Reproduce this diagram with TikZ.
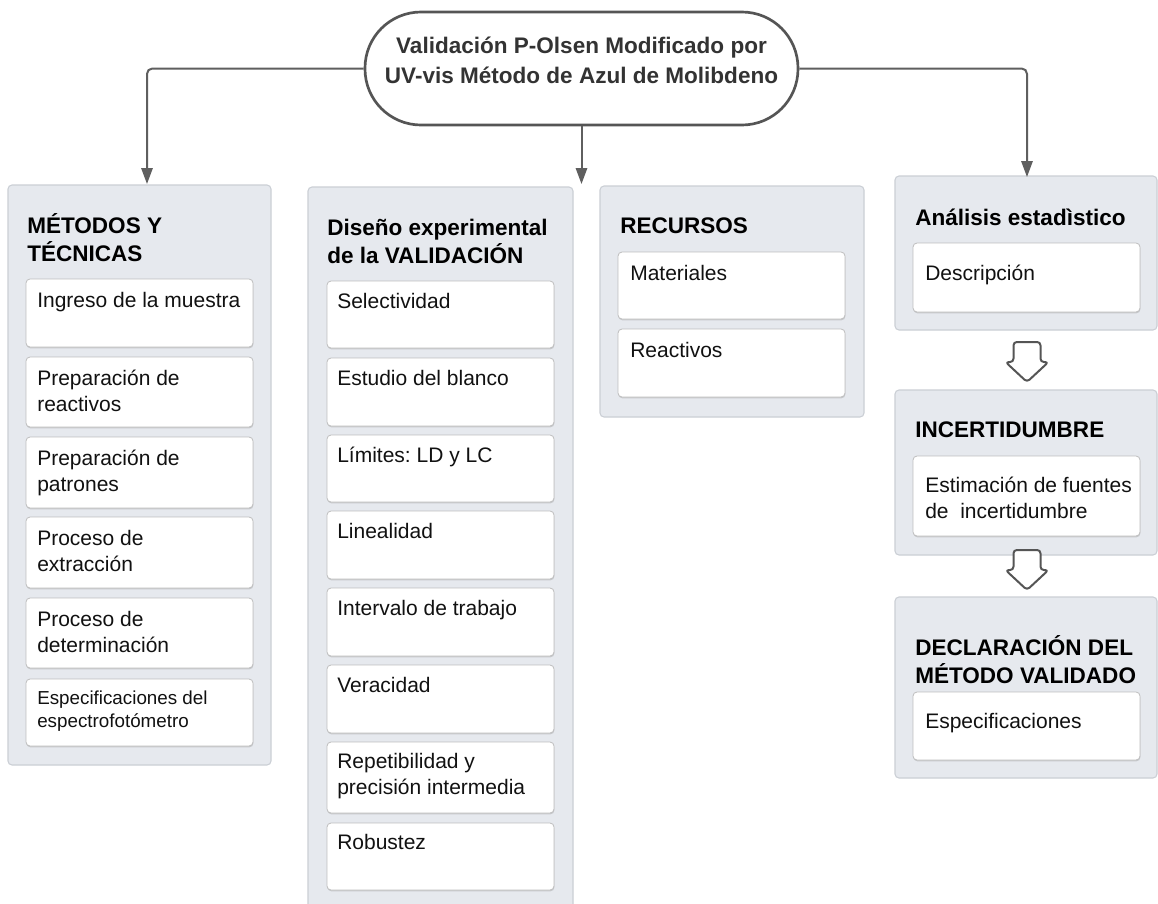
\documentclass[tikz,border=0pt]{standalone}
\usepackage{fontspec}
\setmainfont{Liberation Sans}
\usetikzlibrary{fit,arrows.meta,shadows}
\definecolor{panelfill}{HTML}{E6E9EE}
\definecolor{panelline}{HTML}{CBCFD5}
\definecolor{boxline}{HTML}{BEBEBE}
\definecolor{connc}{HTML}{5F5F5F}
\definecolor{topline}{HTML}{555555}
\definecolor{toptext}{HTML}{333333}
\definecolor{txtc}{HTML}{111111}
\frenchspacing
\newcommand\mytwo[2]{\vtop{\hbox{#1}\hbox{#2}}}
\tikzset{
 panel/.style={draw=panelline, fill=panelfill, line width=0.8pt, rounded corners=3pt, inner sep=0pt},
 item/.style={draw=boxline, fill=white, line width=0.6pt, rounded corners=3pt, inner sep=0pt,
   drop shadow={shadow xshift=0.3pt, shadow yshift=-1pt, opacity=0.3}},
 ttl/.style={anchor=base west, inner sep=0pt, text=black, font=\fontsize{16.9}{21}\selectfont\bfseries},
 txt/.style={anchor=base west, inner sep=0pt, text=txtc, font=\fontsize{15.75}{19.5}\selectfont},
 smalltxt/.style={anchor=base west, inner sep=0pt, text=txtc, font=\fontsize{14.1}{17.3}\selectfont},
 conn/.style={draw=connc, line width=1.5pt, rounded corners=4pt, -{Triangle[length=12pt,width=8.5pt]}},
 hollow/.style={draw=topline, line width=1.5pt, fill=white, rounded corners=2.5pt, line join=round},
 topnode/.style={draw=topline, line width=2pt, fill=white, rounded corners=42pt, inner sep=0pt,
   align=center, text=toptext, font=\fontsize{16.9}{22.5}\selectfont\bfseries},
}
\begin{document}
\begin{tikzpicture}[x=0.75pt,y=-0.75pt]
\clip (0,0) rectangle (1158,904);
\fill[white] (0,0) rectangle (1158,904);

% top node
\node[topnode, fit={(365,12) (798,125)}] (top) {Validación P-Olsen Modificado por\\UV-vis Método de Azul de Molibdeno};

% panels
\node[panel, fit={(8,185) (271,765)}] (p1) {};
\node[panel, fit={(308,187) (573,912)}] (p2) {};
\node[panel, fit={(600,186) (864,417)}] (p3) {};
\node[panel, fit={(895,176) (1157,330)}] (p4) {};
\node[panel, fit={(895,390) (1157,555)}] (p5) {};
\node[panel, fit={(895,597) (1157,778)}] (p6) {};

% connectors
\coordinate (c1) at (147,184);
\coordinate (c2) at (581.5,184);
\coordinate (c3) at (1027,177);
\draw[conn] (top.west) -| (c1);
\draw[conn] (top.south) -- (c2);
\draw[conn] (top.east) -| (c3);

% panel 1
\node[ttl] (t1) at (27,233) {\mytwo{MÉTODOS Y}{TÉCNICAS}};
\node[item, fit={(26,279) (253,347)}] (b11) {};
\node[item, fit={(26,357) (253,427)}] (b12) {};
\node[item, fit={(26,437) (253,508)}] (b13) {};
\node[item, fit={(26,517) (253,588)}] (b14) {};
\node[item, fit={(26,598) (253,668)}] (b15) {};
\node[item, fit={(26,679) (253,746)}] (b16) {};
\node[txt] (x11) at (37,307) {Ingreso de la muestra};
\node[txt] (x12) at (37,385) {\mytwo{Preparación de}{reactivos}};
\node[txt] (x13) at (37,465) {\mytwo{Preparación de}{patrones}};
\node[txt] (x14) at (37,545) {\mytwo{Proceso de}{extracción}};
\node[txt] (x15) at (37,626) {\mytwo{Proceso de}{determinación}};
\node[smalltxt] (x16) at (37,704) {\mytwo{Especificaciones del}{espectrofotómetro}};

% panel 2
\node[ttl] (t2) at (327,235) {\mytwo{Diseño experimental}{de la VALIDACIÓN}};
\node[item, fit={(327,281) (554,348)}] (b21) {};
\node[item, fit={(327,358) (554,426)}] (b22) {};
\node[item, fit={(327,435) (554,502)}] (b23) {};
\node[item, fit={(327,511) (554,579)}] (b24) {};
\node[item, fit={(327,588) (554,656)}] (b25) {};
\node[item, fit={(327,665) (554,733)}] (b26) {};
\node[item, fit={(327,742) (554,813)}] (b27) {};
\node[item, fit={(327,823) (554,890)}] (b28) {};
\node[txt] (x21) at (337,308) {Selectividad};
\node[txt] (x22) at (337,385) {Estudio del blanco};
\node[txt] (x23) at (337,462) {Límites: LD y LC};
\node[txt] (x24) at (337,538) {Linealidad};
\node[txt] (x25) at (337,615) {Intervalo de trabajo};
\node[txt] (x26) at (337,692) {Veracidad};
\node[txt] (x27) at (337,768) {\mytwo{Repetibilidad y}{precisión intermedia}};
\node[txt] (x28) at (337,849) {Robustez};

% panel 3
\node[ttl] (t3) at (620,233) {RECURSOS};
\node[item, fit={(618,252) (845,319)}] (b31) {};
\node[item, fit={(618,329) (845,397)}] (b32) {};
\node[txt] (x31) at (630,280) {Materiales};
\node[txt] (x32) at (630,357) {Reactivos};

% panel 4
\node[ttl] (t4) at (915,225) {Análisis estadìstico};
\node[item, fit={(913,243) (1140,312)}] (b41) {};
\node[txt] (x41) at (925,280) {Descripción};

% panel 5
\node[ttl] (t5) at (915,437) {INCERTIDUMBRE};
\node[item, fit={(913,456) (1140,536)}] (b51) {};
\node[txt] (x51) at (925,492) {\mytwo{Estimación de fuentes}{de~ incertidumbre}};

% panel 6
\node[ttl] (t6) at (915,655) {\mytwo{DECLARACIÓN DEL}{MÉTODO VALIDADO}};
\node[item, fit={(913,692) (1140,760)}] (b61) {};
\node[txt] (x61) at (925,728) {Especificaciones};

% hollow arrows
\coordinate (a1) at (1027,362);
\coordinate (a2) at (1027,570);
\draw[hollow] (a1) ++(-13.5,-20) -- ++(27,0) -- ++(0,20) -- ++(8,0) -- ++(-21.5,20) -- ++(-21.5,-20) -- ++(8,0) -- cycle;
\draw[hollow] (a2) ++(-13.5,-20) -- ++(27,0) -- ++(0,20) -- ++(8,0) -- ++(-21.5,20) -- ++(-21.5,-20) -- ++(8,0) -- cycle;
\end{tikzpicture}
\end{document}
